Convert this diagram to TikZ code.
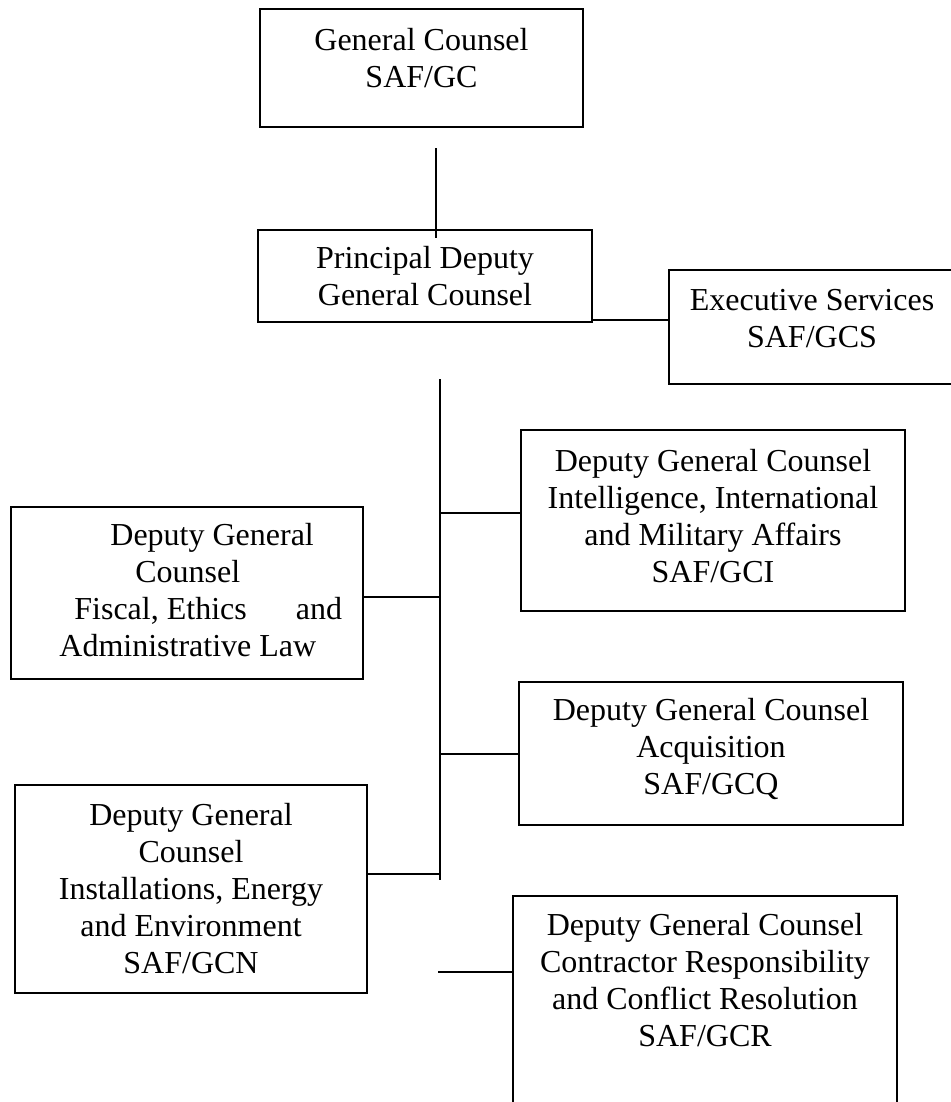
\documentclass[tikz,border=0pt]{standalone}
\usepackage{fontspec}
\setmainfont{Liberation Serif}
\newcommand\firststrut{\rule{0pt}{13pt}}
\begin{document}
\begin{tikzpicture}[x=0.5pt,y=-0.5pt,
  box/.style={draw, line width=1pt, inner sep=0pt, rectangle},
  txt/.style={align=center, inner sep=0pt, font=\fontsize{16pt}{18.5pt}\selectfont},
  txtl/.style={align=left, inner sep=0pt, font=\fontsize{16pt}{18.5pt}\selectfont},
  conn/.style={line width=1pt}]
\useasboundingbox (0,0) rectangle (951,1102);
\clip (0,0) rectangle (951,1102);

% boxes
\node[box, minimum width=161.5pt, minimum height=59pt] (gc) at (421.5,68) {};
\node[txt, anchor=north] (gct) at (421.5,24) {\firststrut General Counsel\\SAF/GC};

\node[box, minimum width=167pt, minimum height=46pt] (pd) at (425,276) {};
\node[txt, anchor=north] (pdt) at (425,242) {\firststrut Principal Deputy\\General Counsel};

\node[box, minimum width=143pt, minimum height=57pt] (exec) at (812,327) {};
\node[txt, anchor=north] (exect) at (812,284) {\firststrut Executive Services\\SAF/GCS};

\node[box, minimum width=192pt, minimum height=90.5pt] (gci) at (713,520.5) {};
\node[txt, anchor=north] (gcit) at (713,445) {\firststrut Deputy General Counsel\\Intelligence, International\\and Military Affairs\\SAF/GCI};

\node[box, minimum width=176pt, minimum height=86pt] (fis) at (187,593) {};
\node[txtl, anchor=north west] (fist) at (59,519) {\firststrut\hspace*{25.5pt}Deputy General\\\hspace*{38pt}Counsel\\\hspace*{7.5pt}Fiscal, Ethics\hspace{24.5pt}and\\Administrative Law};

\node[box, minimum width=192pt, minimum height=71.5pt] (gcq) at (711,753.5) {};
\node[txt, anchor=north] (gcqt) at (711,694) {\firststrut Deputy General Counsel\\Acquisition\\SAF/GCQ};

\node[box, minimum width=176pt, minimum height=104pt] (gcn) at (191,889) {};
\node[txt, anchor=north] (gcnt) at (191,799) {\firststrut Deputy General\\Counsel\\Installations, Energy\\and Environment\\SAF/GCN};

\node[box, minimum width=192pt, minimum height=108pt] (gcr) at (705,1004) {};
\node[txt, anchor=north] (gcrt) at (705,909) {\firststrut Deputy General Counsel\\Contractor Responsibility\\and Conflict Resolution\\SAF/GCR};

% connectors
\draw[conn] ([shift={(14.5,20)}]gc.south) -- ([shift={(11,9)}]pd.north);
\coordinate (pdx) at ([shift={(0,-3)}]pd.south east);
\draw[conn] (pdx) -- (pdx -| exec.west);

\coordinate (ttop) at (440,379);
\coordinate (tbot) at (440,880);
\draw[conn] (ttop) -- (tbot);

\coordinate (gcia) at ([shift={(0,-7.5)}]gci.west);
\draw[conn] (ttop |- gcia) -- (gcia);
\coordinate (fisa) at ([shift={(0,4)}]fis.east);
\draw[conn] (fisa) -- (fisa -| ttop);
\draw[conn] (ttop |- gcq.west) -- (gcq.west);
\coordinate (gcna) at ([shift={(0,-15)}]gcn.east);
\draw[conn] (gcna) -- (gcna -| ttop);
\coordinate (gcra) at ([shift={(0,77)}]gcr.north west);
\draw[conn] ([xshift=-1pt]gcra -| ttop) -- (gcra);
\end{tikzpicture}
\end{document}
